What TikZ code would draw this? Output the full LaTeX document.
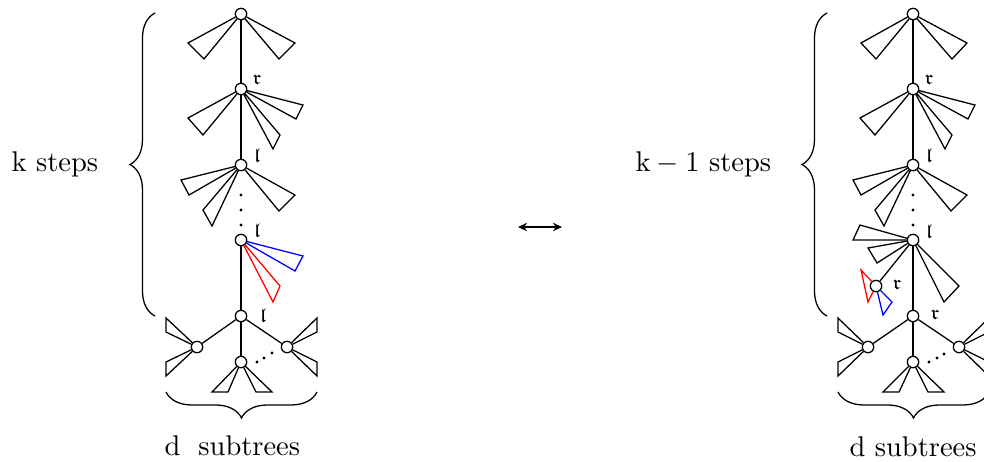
\documentclass[tikz,border=0pt]{standalone}
\usepackage{amssymb}
\usetikzlibrary{decorations.pathreplacing,arrows.meta}
\begin{document}
\begin{tikzpicture}[x=0.351pt,y=-0.351pt,
 vtx/.style={circle,draw,fill=white,inner sep=0pt,minimum size=4pt,line width=0.45pt},
 lbl/.style={font=\scriptsize,inner sep=0pt},
 ln/.style={line width=0.45pt},
 tri/.style={line width=0.45pt,line join=miter},
 dotm/.style={circle,fill=black,inner sep=0pt,minimum size=1.2pt},
 bracestyle/.style={decorate,decoration={brace,amplitude=#1},line width=0.45pt},
 txt/.style={anchor=base west,inner sep=0pt}
 ]
\useasboundingbox (0,0) rectangle (984,461);
\clip (0,0) rectangle (984,461);

% ================= LEFT TREE =================
\node[vtx] (a0) at (241,14) {};
\node[vtx] (a1) at (241,89) {};
\node[vtx] (a2) at (241,165) {};
\node[vtx] (a3) at (241,240) {};
\node[vtx] (a4) at (241,316) {};
\node[vtx] (aL) at (197,347) {};
\node[vtx] (aM) at (241,362) {};
\node[vtx] (aR) at (287,347) {};

\draw[ln] (a0) -- (a1);
\draw[ln] (a1) -- (a2);
\draw[ln] (a3) -- (a4);
\draw[ln] (a4) -- (aL);
\draw[ln] (a4) -- (aM);
\draw[ln] (a4) -- (aR);

\node[dotm] (ad1) at (241,195) {};
\node[dotm] (ad2) at (241,210) {};
\node[dotm] (ad3) at (241,225) {};

\node[dotm] (ae1) at (257,362) {};
\node[dotm] (ae2) at (264,358) {};
\node[dotm] (ae3) at (272,353) {};

% triangles
\draw[tri] (a0) -- (188,43) -- (204,59) -- (a0);
\draw[tri] (a0) -- (295,43) -- (279,59) -- (a0);
\draw[tri] (a1) -- (188,118) -- (203,135) -- (a1);
\draw[tri] (a1) -- (303,105) -- (296,119) -- (a1);
\draw[tri] (a1) -- (280,135) -- (273,149) -- (a1);
\draw[tri] (a2) -- (181,180) -- (189,195) -- (a2);
\draw[tri] (a2) -- (203,210) -- (212,226) -- (a2);
\draw[tri] (a2) -- (295,195) -- (279,211) -- (a2);
\draw[tri,blue] (a3) -- (303,256) -- (295,271) -- (a3);
\draw[tri,red] (a3) -- (280,286) -- (273,302) -- (a3);
\draw[tri] (aL) -- (166,318) -- (166,332) -- (aL);
\draw[tri] (aL) -- (166,362) -- (166,376) -- (aL);
\draw[tri] (aR) -- (317,318) -- (317,332) -- (aR);
\draw[tri] (aR) -- (317,362) -- (317,376) -- (aR);
\draw[tri] (aM) -- (212,392) -- (228,392) -- (aM);
\draw[tri] (aM) -- (256,392) -- (272,392) -- (aM);

% labels
\node[lbl] (la1) at (257,80) {$\mathfrak{r}$};
\node[lbl] (la2) at (257,156) {$\mathfrak{l}$};
\node[lbl] (la3) at (257,231) {$\mathfrak{l}$};
\node[lbl] (la4) at (263,316) {$\mathfrak{l}$};

% braces and texts
\draw[bracestyle=8.8pt] (155,316) -- (155,13);
\draw[bracestyle=9.1pt] (317,392) -- (166,392);
\node[txt] (ks) at (11,171) {$\mathrm{k}$ steps};
\node[txt] (ds) at (164,455) {$\mathrm{d}$\hspace{3pt} subtrees};

% ================= ARROW =================
\coordinate (arL) at (518,227);
\coordinate (arR) at (562,227);
\draw[ln,{Stealth[length=3.2pt,width=3pt]}-{Stealth[length=3.2pt,width=3pt]}] (arL) -- (arR);

% ================= RIGHT TREE =================
\node[vtx] (b0) at (913,14) {};
\node[vtx] (b1) at (913,89) {};
\node[vtx] (b2) at (913,165) {};
\node[vtx] (b3) at (913,240) {};
\node[vtx] (bc) at (876,286) {};
\node[vtx] (b4) at (913,316) {};
\node[vtx] (bL) at (868,347) {};
\node[vtx] (bM) at (913,362) {};
\node[vtx] (bR) at (959,347) {};

\draw[ln] (b0) -- (b1);
\draw[ln] (b1) -- (b2);
\draw[ln] (b3) -- (b4);
\draw[ln] (b3) -- (bc);
\draw[ln] (b4) -- (bL);
\draw[ln] (b4) -- (bM);
\draw[ln] (b4) -- (bR);

\node[dotm] (bd1) at (913,195) {};
\node[dotm] (bd2) at (913,210) {};
\node[dotm] (bd3) at (913,225) {};

\node[dotm] (be1) at (929,362) {};
\node[dotm] (be2) at (937,358) {};
\node[dotm] (be3) at (944,354) {};

\draw[tri] (b0) -- (861,43) -- (876,59) -- (b0);
\draw[tri] (b0) -- (967,43) -- (952,59) -- (b0);
\draw[tri] (b1) -- (860,118) -- (875,135) -- (b1);
\draw[tri] (b1) -- (975,105) -- (968,119) -- (b1);
\draw[tri] (b1) -- (952,135) -- (945,149) -- (b1);
\draw[tri] (b2) -- (853,180) -- (861,195) -- (b2);
\draw[tri] (b2) -- (875,210) -- (884,226) -- (b2);
\draw[tri] (b2) -- (967,195) -- (951,211) -- (b2);
\draw[tri] (b3) -- (860,225) -- (853,240) -- (b3);
\draw[tri] (b3) -- (868,248) -- (877,263) -- (b3);
\draw[tri] (b3) -- (959,286) -- (944,302) -- (b3);
\draw[tri,red] (bc) -- (861,270) -- (868,302) -- (bc);
\draw[tri,blue] (bc) -- (892,302) -- (883,315) -- (bc);
\draw[tri] (bL) -- (838,318) -- (838,332) -- (bL);
\draw[tri] (bL) -- (838,362) -- (838,376) -- (bL);
\draw[tri] (bR) -- (989,318) -- (989,332) -- (bR);
\draw[tri] (bR) -- (989,362) -- (989,376) -- (bR);
\draw[tri] (bM) -- (883,392) -- (899,392) -- (bM);
\draw[tri] (bM) -- (928,392) -- (944,392) -- (bM);

\node[lbl] (lb1) at (929,80) {$\mathfrak{r}$};
\node[lbl] (lb2) at (929,156) {$\mathfrak{l}$};
\node[lbl] (lb3) at (929,232) {$\mathfrak{l}$};
\node[lbl] (lbc) at (897,285) {$\mathfrak{r}$};
\node[lbl] (lb4) at (935,315) {$\mathfrak{r}$};

\draw[bracestyle=8.8pt] (827,316) -- (827,13);
\draw[bracestyle=9.1pt] (989,392) -- (838,392);
\node[txt] (k1s) at (635,171) {$\mathrm{k}-1$ steps};
\node[txt] (ds2) at (849,456) {$\mathrm{d}$ subtrees};
\end{tikzpicture}
\end{document}
